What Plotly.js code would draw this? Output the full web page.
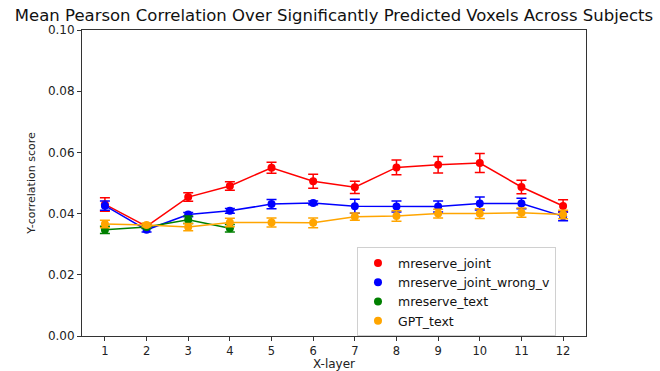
<!DOCTYPE html>
<html>
<head>
<meta charset="utf-8">
<script src="https://cdn.plot.ly/plotly-3.0.1.min.js"></script>
<style>html,body{margin:0;padding:0;background:#fff;}#chart{width:660px;height:371px;}</style>
</head>
<body>
<div id="chart"></div>
<script>
const layers = [1,2,3,4,5,6,7,8,9,10,11,12];
const layersText = [1,2,3,4];

const jointMean  = [0.0430,0.0358,0.0454,0.0490,0.0550,0.0506,0.0486,0.0551,0.0560,0.0565,0.0487,0.0425];
const jointErr   = [0.0022,0.0006,0.0014,0.0014,0.0018,0.0023,0.0020,0.0024,0.0027,0.0031,0.0022,0.0020];

const wrongMean  = [0.0426,0.0347,0.0397,0.0409,0.0431,0.0435,0.0424,0.0423,0.0423,0.0433,0.0433,0.0391];
const wrongErr   = [0.0015,0.0007,0.0007,0.0008,0.0015,0.0006,0.0023,0.0018,0.0018,0.0021,0.0017,0.0014];

const textMean   = [0.0347,0.0356,0.0380,0.0352];
const textErr    = [0.0012,0.0005,0.0012,0.0012];

const gptMean    = [0.0366,0.0363,0.0356,0.0371,0.0371,0.0370,0.0390,0.0392,0.0400,0.0400,0.0403,0.0397];
const gptErr     = [0.0012,0.0006,0.0012,0.0014,0.0015,0.0016,0.0012,0.0017,0.0014,0.0016,0.0015,0.0014];

const names  = ['mreserve_joint','mreserve_joint_wrong_v','mreserve_text','GPT_text'];
const colors = ['#ff0000','#0000ff','#008000','#ffa500'];

const series = [
  {x: layers, y: jointMean, e: jointErr},
  {x: layers, y: wrongMean, e: wrongErr},
  {x: layersText, y: textMean, e: textErr},
  {x: layers, y: gptMean, e: gptErr}
];

const traces = [];
series.forEach((s, i) => {
  traces.push({
    type: 'scatter', mode: 'lines+markers',
    x: s.x, y: s.y, name: names[i], showlegend: false,
    line: {color: colors[i], width: 1.5},
    marker: {color: colors[i], size: 8},
    error_y: {type: 'data', array: s.e, visible: true, color: colors[i], thickness: 1.5, width: 5},
    hoverinfo: 'x+y'
  });
});
names.forEach((n, i) => {
  traces.push({
    type: 'scatter', mode: 'markers', x: [null], y: [null], name: n,
    marker: {color: colors[i], size: 8}, showlegend: true
  });
});

const font = "'DejaVu Sans', sans-serif";
const layout = {
  width: 660, height: 371,
  margin: {l: 82, r: 74, t: 30, b: 35},
  paper_bgcolor: '#fff', plot_bgcolor: '#fff',
  font: {family: font, color: '#222', size: 12},
  title: {text: 'Mean Pearson Correlation Over Significantly Predicted Voxels Across Subjects',
          font: {family: font, size: 16.5, color: '#111'}, x: 0.506, xanchor: 'center', y: 0.96, yanchor: 'middle'},
  xaxis: {
    range: [0.45, 12.55], tickmode: 'array', tickvals: layers, ticktext: layers.map(String),
    showgrid: false, zeroline: false, showline: true, mirror: true, linecolor: '#333', linewidth: 1,
    ticks: 'outside', ticklen: 4, tickcolor: '#333', tickfont: {size: 11.5, family: font},
    title: {text: 'X-layer', font: {size: 12, family: font}, standoff: 4}, automargin: false
  },
  yaxis: {
    range: [0, 0.1], tickmode: 'linear', tick0: 0, dtick: 0.02, tickformat: '.2f',
    showgrid: false, zeroline: false, showline: true, mirror: true, linecolor: '#333', linewidth: 1,
    ticks: 'outside', ticklen: 4, tickcolor: '#333', tickfont: {size: 12, family: font},
    title: {text: 'Y-correlation score', font: {size: 11, family: font}, standoff: 10}
  },
  legend: {
    x: 0.5456, y: 0.29, xanchor: 'left', yanchor: 'top',
    bgcolor: 'rgba(255,255,255,0.8)', bordercolor: '#d0d0d0', borderwidth: 1,
    font: {size: 12.5, family: font, color: '#111'}, tracegroupgap: 0, itemwidth: 30
  },
  showlegend: true
};

Plotly.newPlot('chart', traces, layout, {displayModeBar: false, staticPlot: true});
</script>
</body>
</html>
